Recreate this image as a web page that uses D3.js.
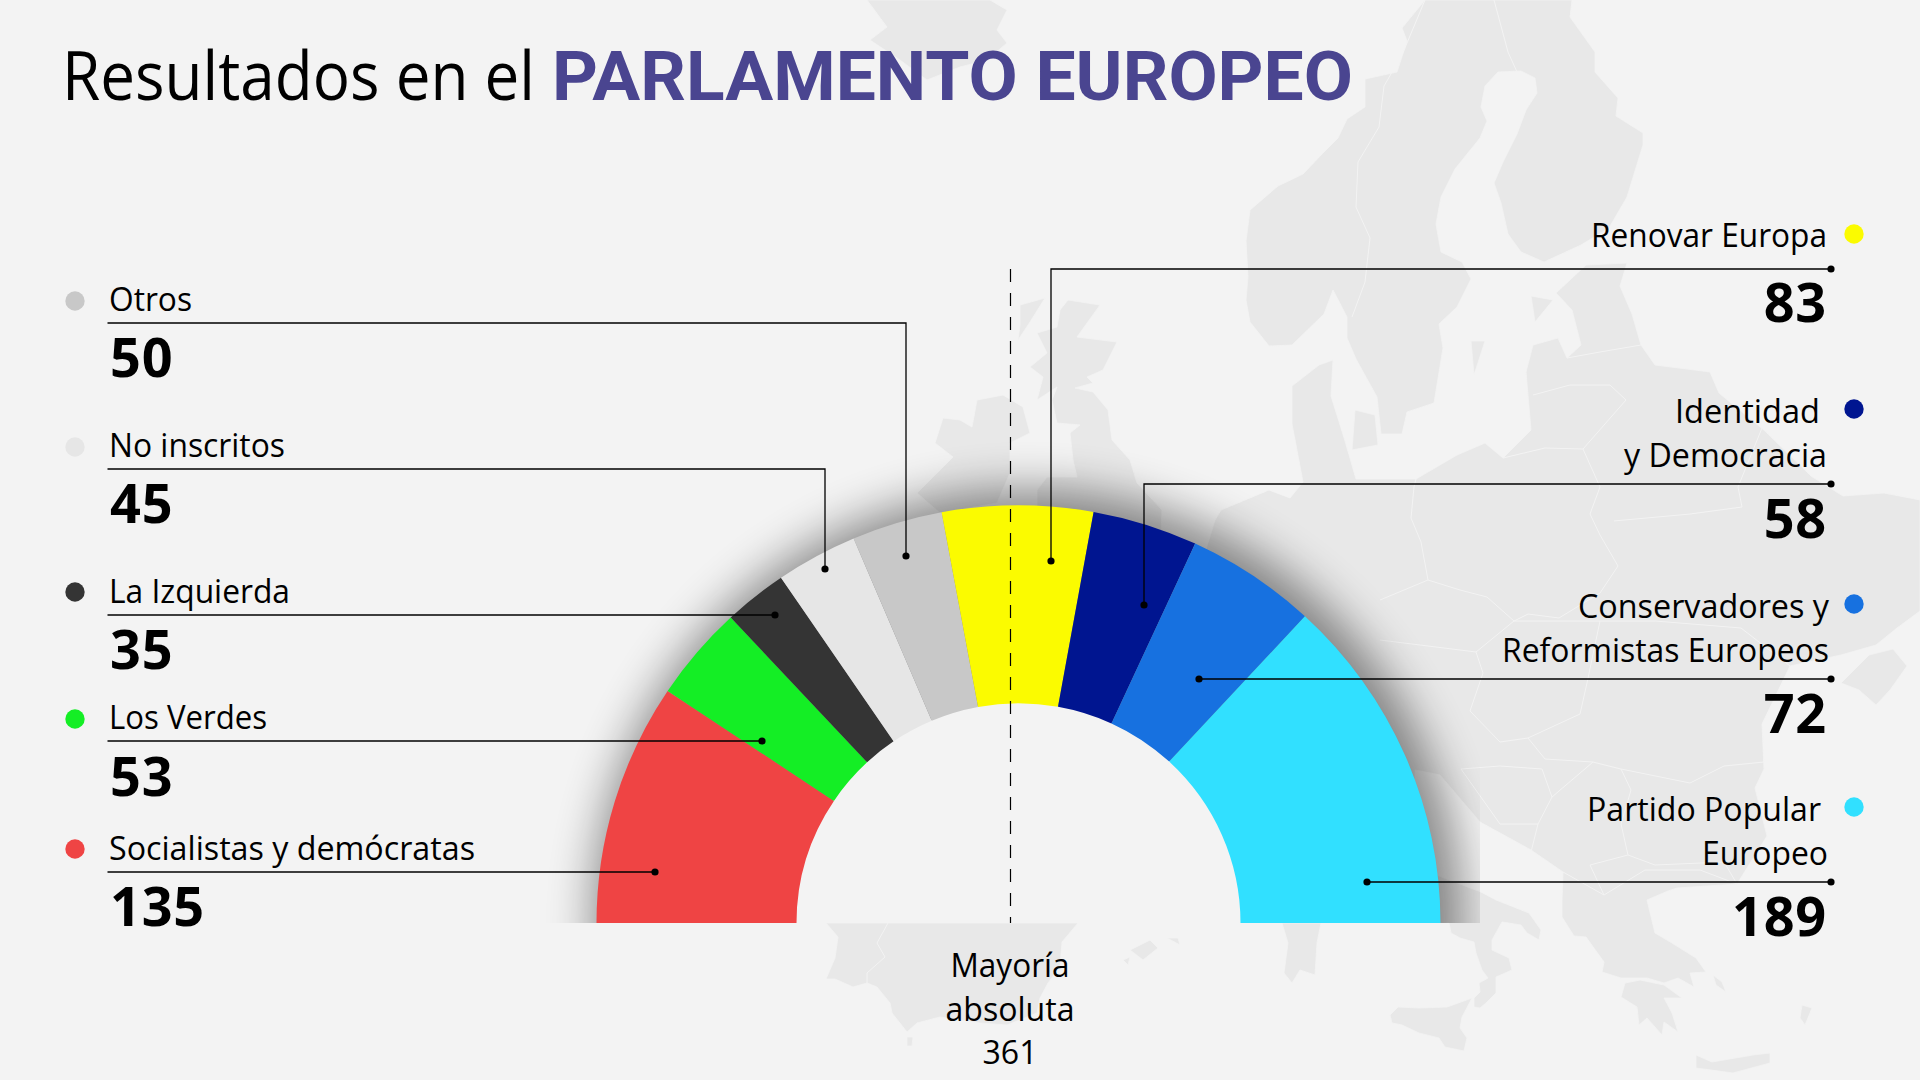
<!DOCTYPE html>
<html>
<head>
<meta charset="utf-8">
<title>Resultados en el Parlamento Europeo</title>
<script src="https://d3js.org/d3.v7.min.js"></script>
<style>
  body { margin: 0; background: #f3f3f3; }
  svg { display: block; }
  text { font-family: "Open Sans", sans-serif; fill: #000; }
  .num { font-weight: 700; font-size: 54px; letter-spacing: 0.8px; }
  .lab { font-size: 33px; }
</style>
</head>
<body>
<script>
// data, in the order of the hemicycle from left to right
const parties = ["Socialistas y demócratas", "Los Verdes", "La Izquierda", "No inscritos", "Otros",
                 "Renovar Europa", "Identidad y Democracia", "Conservadores y Reformistas Europeos", "Partido Popular Europeo"];
const seats = [135, 53, 35, 45, 50, 83, 58, 72, 189];
const colors = ["#ef4444", "#14ee25", "#343434", "#e6e6e6", "#c8c8c8", "#fbfb00", "#001590", "#1771e0", "#31e0ff"];
const majorityLines = ["Mayoría", "absoluta", "361"];

// label layout, same order as parties
const labelLines = [
  [["Socialistas y demócratas", 860, 366]],
  [["Los Verdes", 729, 158]],
  [["La Izquierda", 603, 181]],
  [["No inscritos", 457, 176]],
  [["Otros", 311, 83]],
  [["Renovar Europa", 247, 236, 1827]],
  [["Identidad", 423, 145, 1820], ["y Democracia", 467, 203, 1827]],
  [["Conservadores y", 618, 251, 1829], ["Reformistas Europeos", 662, 327, 1829]],
  [["Partido Popular", 821, 234, 1821], ["Europeo", 865, 126, 1828]]
];
const bulletY = [849, 719, 592, 447, 301, 234, 409, 604, 807];
const numberY = [926, 796, 669, 523, 377, 322, 538, 733, 936];
const ruleY = [872, 741, 615, 469, 323, 269, 484, 679, 882];
const anchorX = [655, 762, 775, 825, 906, 1051, 1144, 1199, 1367];
const anchorY = [872, 741, 615, 569, 556, 561, 605, 679, 882];
const leftCount = 5;

// background map, traced by hand
const map = [
  // Islandia
  [[867,0],[887,27],[870,40],[900,60],[927,80],[960,67],[987,60],[1007,43],[997,30],[1007,10],[990,0]],
  // Irlanda
  [[943,418],[960,420],[972,427],[977,400],[1003,395],[1023,407],[1030,433],[1010,443],[1010,473],[997,503],[940,513],[917,493],[940,470],[953,457],[935,443]],
  // Gran Bretaña
  [[1068,300],[1100,305],[1077,337],[1117,342],[1103,370],[1087,377],[1093,383],[1075,388],[1093,392],[1108,410],[1112,440],[1130,460],[1137,483],[1162,510],[1160,560],[1037,560],[1037,490],[1047,477],[1077,477],[1073,460],[1070,433],[1080,425],[1057,423],[1052,400],[1057,387],[1037,400],[1043,377],[1030,367],[1047,353],[1037,333],[1057,327],[1060,310]],
  // Hebridas
  [[1020,305],[1045,298],[1030,322],[1018,340],[1020,325]],
  // Escandinavia y Finlandia
  [[1425,0],[1402,28],[1407,41],[1397,72],[1365,79],[1365,107],[1347,119],[1338,138],[1324,152],[1303,174],[1278,186],[1250,210],[1246,241],[1248,276],[1246,300],[1250,322],[1269,346],[1292,345],[1324,314],[1333,290],[1347,317],[1347,338],[1356,359],[1377,397],[1381,434],[1402,434],[1407,412],[1434,403],[1443,348],[1439,324],[1457,307],[1471,279],[1462,262],[1441,252],[1436,224],[1441,197],[1455,169],[1480,138],[1487,121],[1481,107],[1485,86],[1498,72],[1521,71],[1535,78],[1537,93],[1526,110],[1517,134],[1503,162],[1494,183],[1501,203],[1508,234],[1521,252],[1544,262],[1581,245],[1609,228],[1627,197],[1643,145],[1643,133],[1616,116],[1618,98],[1595,72],[1595,52],[1570,17],[1572,0]],
  // Continente
  [[1160,700],[1215,520],[1221,510],[1269,490],[1290,498],[1303,482],[1292,424],[1292,386],[1319,365],[1333,360],[1331,396],[1345,441],[1356,479],[1416,479],[1457,455],[1485,443],[1503,458],[1531,430],[1526,372],[1533,345],[1558,338],[1567,358],[1581,345],[1572,310],[1556,293],[1586,265],[1627,263],[1620,286],[1632,314],[1641,345],[1655,365],[1687,369],[1710,372],[1719,393],[1765,431],[1811,476],[1843,496],[1884,493],[1920,500],[1920,611],[1897,628],[1876,645],[1841,655],[1790,666],[1762,724],[1764,769],[1755,788],[1767,836],[1737,884],[1677,888],[1668,891],[1647,900],[1655,933],[1672,943],[1696,958],[1706,972],[1690,973],[1694,987],[1678,978],[1664,983],[1647,978],[1621,978],[1602,972],[1604,962],[1586,937],[1574,936],[1562,917],[1562,900],[1563,872],[1531,850],[1480,822],[1440,775],[1415,770],[1415,860],[1439,876],[1481,892],[1496,900],[1529,913],[1541,930],[1539,940],[1527,933],[1521,925],[1502,922],[1492,940],[1492,950],[1509,958],[1512,970],[1496,977],[1496,993],[1486,1003],[1480,1008],[1474,1007],[1474,998],[1480,992],[1479,983],[1488,978],[1482,970],[1476,953],[1474,942],[1460,938],[1451,933],[1449,923],[1100,923]],
  // Selandia, Gotland, Saaremaa
  [[1355,410],[1375,415],[1378,445],[1352,450]],
  [[1471,341],[1485,341],[1474,375]],
  [[1531,296],[1553,300],[1535,322]],
  // Crimea
  [[1841,683],[1869,655],[1893,649],[1907,666],[1890,690],[1876,705],[1859,690]],
  // Peloponeso
  [[1625,983],[1621,997],[1637,1007],[1639,1025],[1647,1018],[1662,1035],[1664,1022],[1678,1032],[1672,1013],[1664,998],[1682,998],[1664,985],[1640,980]],
  // Creta, Evia, Rodas
  [[1696,1055],[1712,1062],[1753,1055],[1770,1053],[1770,1063],[1733,1073],[1696,1068]],
  [[1713,975],[1722,982],[1726,992],[1716,985]],
  [[1802,1005],[1812,1008],[1805,1025],[1800,1018]],
  // Sicilia
  [[1390,1015],[1398,1007],[1419,1008],[1447,1007],[1472,998],[1462,1017],[1460,1028],[1467,1038],[1464,1051],[1445,1047],[1439,1038],[1419,1033],[1402,1025],[1392,1023]],
  // Cerdeña
  [[1282,923],[1321,923],[1317,943],[1315,975],[1300,970],[1292,983],[1284,973],[1288,943]],
  // Baleares
  [[1130,950],[1150,940],[1158,948],[1143,960]],
  [[1167,938],[1178,938],[1180,945]],
  [[1123,960],[1130,957],[1128,965]],
  // España y Portugal
  [[826,923],[1078,923],[1062,942],[1060,967],[1048,983],[1040,998],[1037,1013],[1007,1025],[980,1023],[940,1017],[917,1023],[907,1032],[892,1013],[890,1003],[877,987],[867,983],[853,987],[835,979],[826,979],[835,958],[838,937]],
  [[907,1037],[913,1037],[912,1046],[907,1046]]
];
const borders = [
  [[888,923],[877,943],[885,957],[867,973],[867,983]],
  [[1425,0],[1402,55],[1384,86],[1379,127],[1358,162],[1356,207],[1370,238],[1365,282],[1352,317]],
  [[1494,0],[1508,52],[1517,72]],
  [[1583,449],[1600,487],[1590,514],[1600,535],[1618,566],[1600,593]],
  [[1428,580],[1460,590],[1487,597],[1514,621],[1528,614],[1559,618],[1600,593]],
  [[1414,487],[1411,518],[1421,542],[1428,580]],
  [[1416,479],[1414,487]],
  [[1614,521],[1690,514],[1742,507],[1738,487],[1762,428]],
  [[1503,458],[1545,448],[1583,449]],
  [[1567,358],[1600,352],[1641,345]],
  [[1533,395],[1570,385],[1610,385],[1626,400],[1583,449]],
  [[1380,600],[1428,580]],
  [[1476,652],[1514,621],[1600,621]],
  [[1380,640],[1476,652],[1483,673],[1470,711],[1500,742],[1528,738]],
  [[1600,621],[1655,621],[1741,628],[1790,666]],
  [[1600,621],[1587,683],[1580,714],[1528,738],[1545,759],[1593,762],[1621,769],[1690,783],[1724,766],[1764,762]],
  [[1621,769],[1631,790],[1621,824],[1628,855],[1655,865],[1724,862],[1737,884]],
  [[1461,769],[1500,766],[1542,769],[1552,797],[1538,824],[1500,824],[1461,769]],
  [[1538,824],[1531,852]],
  [[1563,872],[1604,895],[1645,870],[1700,870],[1737,884]],
  [[1552,797],[1593,762]],
  [[1604,895],[1590,865],[1628,855]]
];

const width = 1920, height = 1080;
const cx = 1018.5, cy = 923, outer = 422, inner = 222;

const svg = d3.select("body").append("svg").attr("width", width).attr("height", height);
svg.append("rect").attr("width", width).attr("height", height).attr("fill", "#f3f3f3");

const defs = svg.append("defs");
defs.append("filter").attr("id", "blur")
  .attr("x", "-20%").attr("y", "-20%").attr("width", "140%").attr("height", "140%")
  .append("feGaussianBlur").attr("stdDeviation", 23);
defs.append("clipPath").attr("id", "shadowClip")
  .append("rect").attr("x", 500).attr("y", 0).attr("width", 980).attr("height", cy);

// map
const mapLine = d3.line().curve(d3.curveLinearClosed);
const mapG = svg.append("g");
mapG.selectAll("path").data(map).join("path")
  .attr("d", mapLine).attr("fill", "#e8e8e8").attr("stroke", "#f3f3f3").attr("stroke-width", 0.8);
svg.append("g").selectAll("path").data(borders).join("path")
  .attr("d", d3.line()).attr("fill", "none").attr("stroke", "#f3f3f3").attr("stroke-width", 1);

// shadow behind the hemicycle, cut at the base line
svg.append("g").attr("clip-path", "url(#shadowClip)")
  .append("circle").attr("cx", cx + 9).attr("cy", cy).attr("r", outer + 12)
  .attr("fill", "#000").attr("opacity", 0.44).attr("filter", "url(#blur)");

const pie = d3.pie().sort(null).startAngle(-Math.PI / 2).endAngle(Math.PI / 2);
const arcs = pie(seats);
const arc = d3.arc().innerRadius(inner).outerRadius(outer);
const hole = d3.arc().innerRadius(0).outerRadius(inner + 1).startAngle(-Math.PI / 2).endAngle(Math.PI / 2);

const chart = svg.append("g").attr("transform", `translate(${cx},${cy}) scale(1,0.99)`);
chart.append("path").attr("d", hole()).attr("fill", "#f3f3f3");
chart.selectAll("path.seat").data(arcs).join("path")
  .attr("class", "seat").attr("d", arc).attr("fill", (d, i) => colors[i]);

// majority line
svg.append("line").attr("x1", 1010.5).attr("x2", 1010.5).attr("y1", 269).attr("y2", cy)
  .attr("stroke", "#000").attr("stroke-width", 1.2).attr("stroke-dasharray", "13 11");

// leaders, bullets, labels
parties.forEach(function(p, i) {
  const left = i < leftCount;
  const startX = left ? 107.5 : 1831;
  const pts = [[startX, ruleY[i]], [anchorX[i], ruleY[i]], [anchorX[i], anchorY[i]]];
  svg.append("path").attr("d", d3.line()(pts)).attr("fill", "none").attr("stroke", "#000").attr("stroke-width", 1.3);
  svg.append("circle").attr("cx", anchorX[i]).attr("cy", anchorY[i]).attr("r", 3.6).attr("fill", "#000");
  if (!left) svg.append("circle").attr("cx", startX).attr("cy", ruleY[i]).attr("r", 3.6).attr("fill", "#000");

  svg.append("circle").attr("cx", left ? 75 : 1854).attr("cy", bulletY[i]).attr("r", 9.7).attr("fill", colors[i]);

  labelLines[i].forEach(function(l) {
    svg.append("text").attr("class", "lab")
      .attr("x", left ? 109 : l[3]).attr("y", l[1])
      .attr("text-anchor", left ? "start" : "end")
      .attr("textLength", l[2]).attr("lengthAdjust", "spacingAndGlyphs")
      .text(l[0]);
  });
  svg.append("text").attr("class", "num")
    .attr("x", left ? 110 : 1827).attr("y", numberY[i])
    .attr("text-anchor", left ? "start" : "end")
    .text(seats[i]);
});

// majority label
const majY = [977, 1021, 1064], majW = [119, 129, 55];
majorityLines.forEach(function(t, i) {
  svg.append("text").attr("class", "lab").attr("x", 1010).attr("y", majY[i])
    .attr("text-anchor", "middle").attr("textLength", majW[i]).attr("lengthAdjust", "spacingAndGlyphs")
    .text(t);
});

// title
svg.append("text").attr("x", 62).attr("y", 100).style("font-size", "67px")
  .attr("textLength", 473).attr("lengthAdjust", "spacingAndGlyphs")
  .text("Resultados en el");
svg.append("text").attr("x", 552).attr("y", 100)
  .style("font-family", "Roboto, sans-serif").style("font-weight", 700).style("font-size", "69px").style("fill", "#4a4590")
  .attr("textLength", 801).attr("lengthAdjust", "spacingAndGlyphs")
  .text("PARLAMENTO EUROPEO");
</script>
</body>
</html>
